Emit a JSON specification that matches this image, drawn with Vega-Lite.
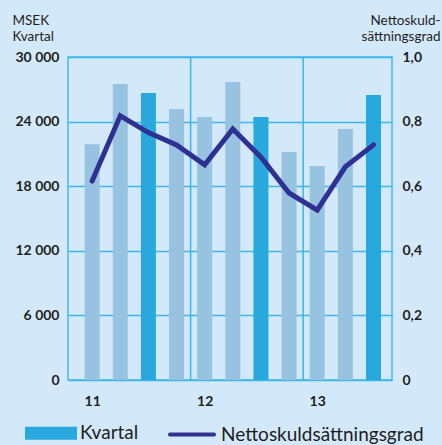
{
  "$schema": "https://vega.github.io/schema/vega-lite/v6.json",
  "width": 324,
  "height": 323,
  "autosize": "none",
  "padding": {"left": 68, "top": 57, "right": 50, "bottom": 65},
  "background": "#d3e9fa",
  "config": {
    "font": "Lato",
    "view": {"stroke": "#45bbea", "strokeWidth": 1.5},
    "axis": {"labelFont": "Lato", "titleFont": "Lato", "labelColor": "#1e1e1e", "titleColor": "#1e1e1e"}
  },
  "data": {
    "values": [
      {"i": 0, "period": "2011 Q1", "msek": 21900, "ngrad": 0.616, "serie": "Kvartal (övriga)"},
      {"i": 1, "period": "2011 Q2", "msek": 27500, "ngrad": 0.818, "serie": "Kvartal (övriga)"},
      {"i": 2, "period": "2011 Q3", "msek": 26650, "ngrad": 0.766, "serie": "Kvartal"},
      {"i": 3, "period": "2011 Q4", "msek": 25170, "ngrad": 0.728, "serie": "Kvartal (övriga)"},
      {"i": 4, "period": "2012 Q1", "msek": 24430, "ngrad": 0.666, "serie": "Kvartal (övriga)"},
      {"i": 5, "period": "2012 Q2", "msek": 27680, "ngrad": 0.777, "serie": "Kvartal (övriga)"},
      {"i": 6, "period": "2012 Q3", "msek": 24430, "ngrad": 0.69, "serie": "Kvartal"},
      {"i": 7, "period": "2012 Q4", "msek": 21180, "ngrad": 0.579, "serie": "Kvartal (övriga)"},
      {"i": 8, "period": "2013 Q1", "msek": 19880, "ngrad": 0.526, "serie": "Kvartal (övriga)"},
      {"i": 9, "period": "2013 Q2", "msek": 23310, "ngrad": 0.66, "serie": "Kvartal (övriga)"},
      {"i": 10, "period": "2013 Q3", "msek": 26470, "ngrad": 0.728, "serie": "Kvartal"}
    ]
  },
  "layer": [
    {
      "mark": {"type": "bar", "width": 15},
      "encoding": {
        "x": {
          "field": "i", "type": "quantitative",
          "scale": {"domain": [-0.68, 10.48], "nice": false, "zero": false},
          "axis": {"values": [0, 4, 8], "labelExpr": "datum.value == 0 ? '11' : datum.value == 4 ? '12' : '13'", "grid": false, "ticks": false, "domain": false, "title": null, "labelFontSize": 14, "labelFontWeight": "bold", "labelPadding": 14}
        },
        "y": {
          "field": "msek", "type": "quantitative",
          "scale": {"domain": [0, 30000], "nice": false},
          "axis": {
            "values": [0, 6000, 12000, 18000, 24000, 30000],
            "labelExpr": "replace(format(datum.value, ','), ',', ' ')",
            "grid": true, "gridColor": "#3ab7ea", "gridWidth": 1.5,
            "ticks": false, "domain": false,
            "labelFontSize": 14, "labelFontWeight": "bold", "labelPadding": 9,
            "title": ["MSEK", "Kvartal"],
            "titleAngle": 0, "titleAlign": "left", "titleBaseline": "top",
            "titleX": -56, "titleY": -44, "titleFontSize": 13.5, "titleFontWeight": "normal", "titleLineHeight": 16
          }
        },
        "color": {
          "field": "serie", "type": "nominal",
          "scale": {"domain": ["Kvartal", "Nettoskuldsättningsgrad", "Kvartal (övriga)"], "range": ["#29a8dd", "#2e3192", "#97c3e1"]},
          "legend": {
            "values": ["Kvartal", "Nettoskuldsättningsgrad"],
            "orient": "none", "direction": "horizontal",
            "legendX": -44, "legendY": 349, "padding": 0,
            "title": null,
            "labelFontSize": 19, "labelColor": "#1e1e1e", "labelFont": "Lato", "labelLimit": 400,
            "symbolSize": 2500, "labelOffset": 2, "columnPadding": 23,
            "encode": {
              "symbols": {
                "update": {
                  "shape": {"signal": "datum.value === 'Kvartal' ? 'M-0.96,-0.18H0.96V0.18H-0.96Z' : 'M-0.88,0H0.88'"},
                  "fill": {"signal": "datum.value === 'Kvartal' ? '#29a8dd' : 'transparent'"},
                  "stroke": {"signal": "datum.value === 'Kvartal' ? 'transparent' : '#2e3192'"},
                  "strokeWidth": {"value": 4},
                  "strokeCap": {"value": "round"},
                  "opacity": {"value": 1}
                }
              }
            }
          }
        }
      }
    },
    {
      "data": {"values": [{"grans": 3.5}, {"grans": 7.5}]},
      "mark": {"type": "rule", "color": "#3ab7ea", "strokeWidth": 1.5},
      "encoding": {
        "x": {"field": "grans", "type": "quantitative", "scale": {"domain": [-0.68, 10.48], "nice": false, "zero": false}}
      }
    },
    {
      "mark": {"type": "line", "strokeWidth": 5, "strokeCap": "round", "strokeJoin": "miter"},
      "encoding": {
        "x": {"field": "i", "type": "quantitative", "scale": {"domain": [-0.68, 10.48], "nice": false, "zero": false}},
        "y": {
          "field": "ngrad", "type": "quantitative",
          "scale": {"domain": [0, 1], "nice": false},
          "axis": {
            "orient": "right",
            "values": [0, 0.2, 0.4, 0.6, 0.8, 1],
            "labelExpr": "datum.value == 0 ? '0' : replace(format(datum.value, '.1f'), '.', ',')",
            "grid": false, "ticks": false, "domain": false,
            "labelFontSize": 14, "labelFontWeight": "bold", "labelPadding": 10,
            "title": ["Nettoskuld-", "sättningsgrad"],
            "titleAngle": 0, "titleAlign": "right", "titleBaseline": "top",
            "titleX": 48, "titleY": -44, "titleFontSize": 13.5, "titleFontWeight": "normal", "titleLineHeight": 16
          }
        },
        "color": {"datum": "Nettoskuldsättningsgrad", "type": "nominal"}
      }
    }
  ],
  "resolve": {"scale": {"y": "independent"}}
}
